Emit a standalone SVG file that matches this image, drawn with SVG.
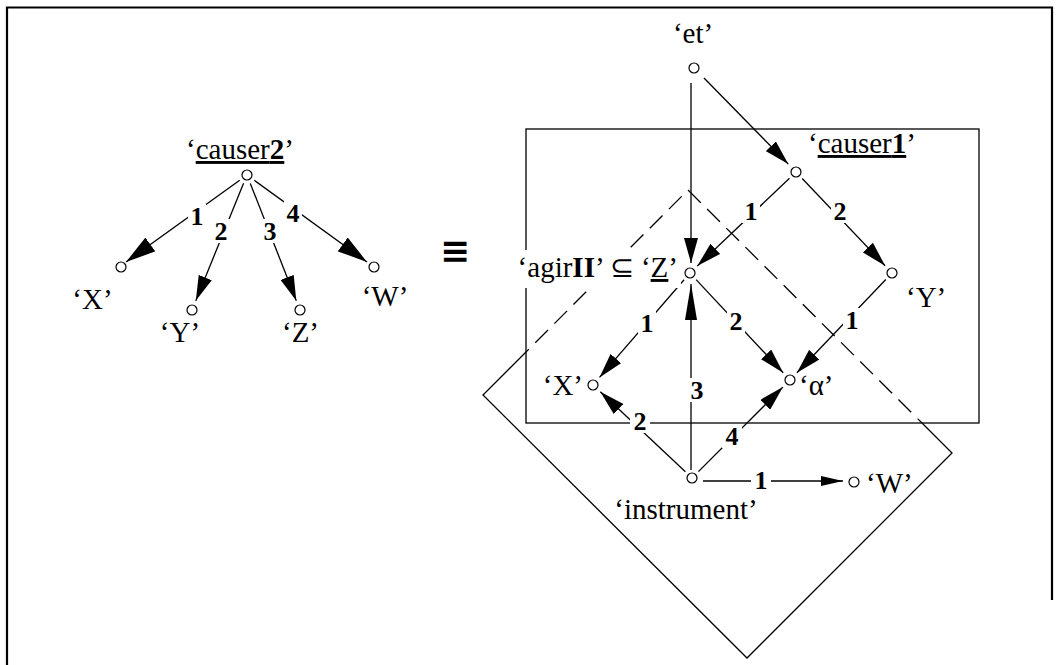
<svg xmlns="http://www.w3.org/2000/svg" width="1057" height="665" viewBox="0 0 1057 665">
<style>
.t{font-family:"Liberation Serif","Times New Roman",serif;font-size:29px;fill:#000}
.n{font-family:"Liberation Serif","Times New Roman",serif;font-size:26px;font-weight:bold;fill:#000;text-anchor:middle;dominant-baseline:central}
.node{fill:#fff;stroke:#000;stroke-width:1.2}
.e{stroke:#000;stroke-width:1.3;fill:none}
.bg{fill:#fff}
.frame{stroke:#000;stroke-width:2.2;fill:none}
.box{stroke:#000;stroke-width:1.3;fill:none}
.dash{stroke:#000;stroke-width:1.3;fill:none;stroke-dasharray:18 9}
</style>
<defs>
<marker id="ah" viewBox="0 0 25 14" refX="25" refY="7" markerWidth="25" markerHeight="14" orient="auto" markerUnits="userSpaceOnUse"><path d="M0,0 L25,7 L0,14 z" fill="#000"/></marker>
<marker id="ahBig" viewBox="0 0 30 17" refX="30" refY="8.5" markerWidth="30" markerHeight="17" orient="auto" markerUnits="userSpaceOnUse"><path d="M0,0 L30,8.5 L0,17 z" fill="#000"/></marker>
<marker id="ahLong" viewBox="0 0 36 12" refX="36" refY="6" markerWidth="36" markerHeight="12" orient="auto" markerUnits="userSpaceOnUse"><path d="M0,0 L36,6 L0,12 z" fill="#000"/></marker>
<marker id="ahSm" viewBox="0 0 22 10" refX="22" refY="5" markerWidth="22" markerHeight="10" orient="auto" markerUnits="userSpaceOnUse"><path d="M0,0 L22,5 L0,10 z" fill="#000"/></marker>
</defs>

<!-- page frame -->
<path class="frame" d="M7,665 L7,7.5 L1052,7.5 L1052,600"/>

<!-- enclosing shapes -->
<g id="box">
<rect class="box" x="526" y="129" width="453" height="294"/>
</g>
<g id="diamond">
<path class="e" d="M526,352 L483,395 L747,658 L952,453 L922,423"/>
<path class="dash" d="M688,190 L922,423"/>
<path class="dash" d="M688,190 L526,352" stroke-dashoffset="-9"/>
</g>

<!-- connectors -->
<g id="connectors">
<line class="e" x1="239.7" y1="180.3" x2="126" y2="262" marker-end="url(#ahBig)"/>
<line class="e" x1="243.6" y1="183.3" x2="195.8" y2="300.7" marker-end="url(#ah)"/>
<line class="e" x1="250.3" y1="183.4" x2="296.3" y2="300.7" marker-end="url(#ah)"/>
<line class="e" x1="254.3" y1="180.3" x2="367" y2="262" marker-end="url(#ahBig)"/>

<line class="e" x1="691" y1="83" x2="691" y2="263" marker-end="url(#ah)"/>
<line class="e" x1="704" y1="78" x2="788.3" y2="164.1" marker-end="url(#ah)"/>
<line class="e" x1="789.5" y1="178.2" x2="697.2" y2="266.1" marker-end="url(#ah)"/>
<line class="e" x1="802.2" y1="178.5" x2="885.1" y2="265.7" marker-end="url(#ah)"/>
<line class="e" x1="684.1" y1="279.8" x2="599.5" y2="377.4" marker-end="url(#ah)"/>
<line class="e" x1="696.1" y1="279.6" x2="783.2" y2="372.7" marker-end="url(#ah)"/>
<line class="e" x1="885.8" y1="279.5" x2="796.9" y2="372.8" marker-end="url(#ah)"/>
<line class="e" x1="691" y1="470" x2="691" y2="284" marker-end="url(#ahLong)"/>
<line class="e" x1="685.4" y1="471.8" x2="600.3" y2="391.8" marker-end="url(#ah)"/>
<line class="e" x1="698.4" y1="471.6" x2="782.9" y2="387.1" marker-end="url(#ah)"/>
<line class="e" x1="703" y1="481" x2="843" y2="481" marker-end="url(#ahSm)"/>

<!-- connector labels -->
<g id="edge-labels">
<rect class="bg" x="188" y="204" width="18" height="24"/><text class="n" x="197" y="216">1</text>
<rect class="bg" x="212" y="219" width="18" height="24"/><text class="n" x="221" y="231">2</text>
<rect class="bg" x="261" y="219" width="18" height="24"/><text class="n" x="270" y="231">3</text>
<rect class="bg" x="284" y="201" width="18" height="24"/><text class="n" x="293" y="213">4</text>

<rect class="bg" x="742" y="199" width="18" height="24"/><text class="n" x="751" y="211">1</text>
<rect class="bg" x="831" y="199" width="18" height="24"/><text class="n" x="840" y="211">2</text>
<rect class="bg" x="638" y="311" width="18" height="24"/><text class="n" x="647" y="323">1</text>
<rect class="bg" x="727" y="309" width="18" height="24"/><text class="n" x="736" y="321">2</text>
<rect class="bg" x="843" y="308" width="18" height="24"/><text class="n" x="852" y="320">1</text>
<rect class="bg" x="688" y="378" width="18" height="24"/><text class="n" x="697" y="390">3</text>
<rect class="bg" x="630" y="409" width="20" height="24"/><text class="n" x="640" y="421">2</text>
<rect class="bg" x="722" y="424" width="20" height="24"/><text class="n" x="732" y="436">4</text>
<rect class="bg" x="751" y="468" width="20" height="24"/><text class="n" x="761" y="480">1</text>
</g>
</g>

<!-- left tree -->
<g id="causer2">
<text class="t" x="240" y="159" text-anchor="middle">‘<tspan text-decoration="underline">causer<tspan font-weight="bold">2</tspan></tspan>’</text>
<circle class="node" cx="247" cy="175" r="5"/>
</g>
<g id="left-X"><circle class="node" cx="121" cy="267" r="5"/><text class="t" x="92.5" y="309" text-anchor="middle">‘X’</text></g>
<g id="left-Y"><circle class="node" cx="192" cy="310" r="5"/><text class="t" x="180" y="342" text-anchor="middle">‘Y’</text></g>
<g id="left-Z"><circle class="node" cx="300" cy="310" r="5"/><text class="t" x="300.5" y="342" text-anchor="middle">‘Z’</text></g>
<g id="left-W"><circle class="node" cx="374" cy="267" r="5"/><text class="t" x="385" y="306" text-anchor="middle">‘W’</text></g>

<g id="equiv"><text x="455" y="263" text-anchor="middle" style="font-family:'DejaVu Sans',sans-serif;font-size:36px;font-weight:bold">≡</text></g>

<!-- right graph -->
<g id="et"><text class="t" x="693" y="43" text-anchor="middle">‘et’</text><circle class="node" cx="694" cy="68" r="5"/></g>
<g id="causer1"><circle class="node" cx="796" cy="172" r="5"/><text class="t" x="808" y="153">‘<tspan text-decoration="underline">causer<tspan font-weight="bold">1</tspan></tspan>’</text></g>
<g id="agir-Z">
<rect class="bg" x="511" y="250" width="170" height="38"/>
<text class="t" x="678" y="277" text-anchor="end">‘agir<tspan font-weight="bold">II</tspan>’ ⊆ ‘<tspan text-decoration="underline">Z</tspan>’</text>
<circle class="node" cx="690" cy="273" r="5"/>
</g>
<g id="right-Y"><circle class="node" cx="892" cy="273" r="5"/><text class="t" x="906" y="307">‘Y’</text></g>
<g id="right-X"><circle class="node" cx="593" cy="385" r="5"/><text class="t" x="583" y="395" text-anchor="end">‘X’</text></g>
<g id="alpha"><circle class="node" cx="790" cy="380" r="5"/><text class="t" x="799" y="395">‘α’</text></g>
<g id="instrument"><circle class="node" cx="692" cy="478" r="5"/><text class="t" x="686" y="519" text-anchor="middle">‘instrument’</text></g>
<g id="right-W"><circle class="node" cx="854" cy="482" r="5"/><text class="t" x="866" y="493">‘W’</text></g>
</svg>
